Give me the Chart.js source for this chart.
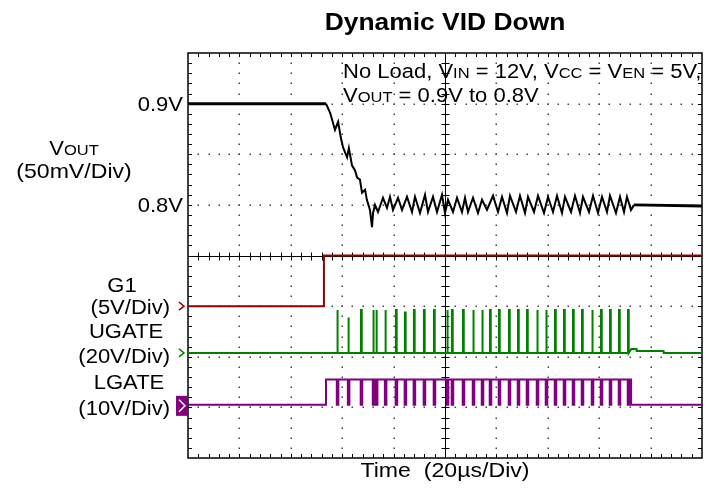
<!DOCTYPE html>
<html>
<head>
<meta charset="utf-8">
<script src="https://cdn.jsdelivr.net/npm/chart.js@4.4.1/dist/chart.umd.min.js"></script>
<style>
  html, body { margin: 0; padding: 0; background: #fff; }
  #wrap { width: 714px; height: 495px; position: relative; }
</style>
</head>
<body>
<div id="wrap"><canvas id="scope"></canvas></div>
<script>
// time axis in µs (20µs/div, 10 div)
const timeTicks = [0, 20, 40, 60, 80, 100, 120, 140, 160, 180, 200];

// VOUT trace (V)
const vTime = [0, 53.7, 55.3, 57.2, 58.4, 59.5, 60.3, 61.9, 62.6, 63.8, 65.0, 65.8, 66.9, 67.7, 68.9, 69.6, 70.8, 71.6, 72.0,
  72.76, 73.93, 75.87, 77.43, 78.60, 79.77, 81.71, 83.27, 85.21, 87.16, 88.33, 90.27, 92.22, 93.38, 95.33, 96.89, 98.83,
  100.0, 101.17, 103.11, 104.67, 106.61, 107.78, 108.95, 110.89, 112.84, 114.40, 116.34, 118.68, 120.62, 122.18, 124.12,
  125.29, 127.62, 129.18, 131.13, 132.30, 134.63, 136.19, 138.52, 140.08, 142.02, 143.58, 145.52, 146.69, 149.03, 150.58,
  152.53, 153.69, 156.03, 157.59, 159.53, 161.09, 163.03, 164.20, 166.53, 168.09, 169.65, 170.81, 172.37, 173.54, 200];
const vOut = [0.900, 0.900, 0.891, 0.874, 0.882, 0.866, 0.857, 0.847, 0.856, 0.839, 0.834, 0.827, 0.825, 0.812, 0.815, 0.805, 0.795, 0.778, 0.792,
  0.800, 0.793, 0.807, 0.797, 0.808, 0.795, 0.807, 0.795, 0.808, 0.793, 0.808, 0.792, 0.810, 0.793, 0.808, 0.793, 0.810,
  0.792, 0.805, 0.793, 0.807, 0.793, 0.807, 0.793, 0.807, 0.792, 0.805, 0.795, 0.809, 0.793, 0.808, 0.792,
  0.809, 0.793, 0.809, 0.792, 0.808, 0.793, 0.809, 0.792, 0.808, 0.793, 0.809, 0.792, 0.808, 0.793, 0.809,
  0.792, 0.808, 0.793, 0.809, 0.792, 0.808, 0.793, 0.809, 0.792, 0.808, 0.793, 0.808, 0.795, 0.800, 0.799];
const vLabels = [0.9, 0.8];

// G1 step (V)
const g1Time = [0, 52.9, 52.9, 200];
const g1Volt = [0, 0, 5, 5];

// UGATE pulses (µs) and their peak (V)
const pulseTimes = [58.0, 62.3, 67.3, 72.0, 73.2, 76.7, 80.9, 84.4, 87.9, 91.8, 95.7, 100.8, 102.7, 107.0, 110.9, 114.4,
  117.5, 121.0, 124.9, 128.4, 131.9, 135.8, 139.3, 142.8, 146.3, 149.8, 153.3, 157.2, 160.7, 164.2, 167.7, 171.2];
const ugPeak = [17, 14, 17, 17, 17, 17, 17, 16, 17, 17, 17, 17, 17, 17, 17, 17,
  17, 17, 17, 17, 17, 17, 17, 17, 17, 17, 17, 17, 17, 17, 17, 17];
const ugTailTime = [172.5, 174.5, 174.6, 185, 185.1];
const ugTailVolt = [1.6, 1.6, 0.8, 0.8, 0];

// LGATE levels (V)
const lgOn = 53.7, lgOff = 172.4, lgHigh = 5;

const ug = [{ x: 0, y: 0 }];
pulseTimes.forEach((t, i) => {
  ug.push({ x: t, y: 0 }, { x: t, y: ugPeak[i] }, { x: t + 0.3, y: ugPeak[i] }, { x: t + 0.3, y: 0 });
});
ugTailTime.forEach((t, i) => ug.push({ x: t, y: ugTailVolt[i] }));
ug.push({ x: 200, y: 0 });

const lg = [{ x: 0, y: 0 }, { x: lgOn, y: 0 }, { x: lgOn, y: lgHigh }];
pulseTimes.forEach(t => {
  lg.push({ x: t - 0.1, y: lgHigh }, { x: t - 0.1, y: 0 }, { x: t + 0.5, y: 0 }, { x: t + 0.5, y: lgHigh });
});
lg.push({ x: lgOff, y: lgHigh }, { x: lgOff, y: 0 }, { x: 200, y: 0 });

const RED = '#990000', GREEN = '#008000', PURPLE = '#800080';
const FONT = '"Liberation Sans", Arial, sans-serif';
const SX = 1.1;

function rich(ctx, parts, x, y, align) {
  let w = 0;
  parts.forEach(p => { ctx.font = p[1]; w += ctx.measureText(p[0]).width; });
  let pos = align === 'center' ? -w / 2 : align === 'right' ? -w : 0;
  ctx.save();
  ctx.translate(x, y);
  ctx.scale(SX, 1);
  ctx.textAlign = 'left';
  ctx.textBaseline = 'alphabetic';
  ctx.fillStyle = '#000';
  parts.forEach(p => { ctx.font = p[1]; ctx.fillText(p[0], pos, 0); pos += ctx.measureText(p[0]).width; });
  ctx.restore();
}

const graticule = {
  id: 'graticule',
  beforeDatasetsDraw(chart) {
    const { ctx, chartArea: a, scales } = chart;
    const x = scales.x, yd = scales.yDiv;
    ctx.save();
    ctx.fillStyle = '#444';
    for (let i = 1; i < 10; i++) {
      if (i === 5) continue;
      const px = Math.round(x.getPixelForValue(timeTicks[i]));
      for (let j = 1; j < 40; j++) ctx.fillRect(px - 0.5, Math.round(yd.getPixelForValue(j * 0.2)) - 0.5, 1.5, 1.5);
    }
    for (let j = 1; j < 8; j++) {
      if (j === 4) continue;
      const py = Math.round(yd.getPixelForValue(j));
      for (let i = 1; i < 50; i++) ctx.fillRect(Math.round(x.getPixelForValue(i * 4)) - 0.5, py - 0.5, 1.5, 1.5);
    }
    ctx.strokeStyle = '#000';
    ctx.lineWidth = 1;
    const cx = Math.round(x.getPixelForValue(100)) + 0.5, cy = Math.round(yd.getPixelForValue(4)) + 0.5;
    ctx.beginPath();
    ctx.moveTo(a.left, cy); ctx.lineTo(a.right, cy);
    ctx.moveTo(cx, a.top); ctx.lineTo(cx, a.bottom);
    for (let i = 1; i < 50; i++) {
      const px = Math.round(x.getPixelForValue(i * 4)) + 0.5;
      ctx.moveTo(px, cy - 4); ctx.lineTo(px, cy + 4);
      ctx.moveTo(px, a.top); ctx.lineTo(px, a.top + 4);
      ctx.moveTo(px, a.bottom); ctx.lineTo(px, a.bottom - 4);
    }
    for (let j = 1; j < 40; j++) {
      const py = Math.round(yd.getPixelForValue(j * 0.2)) + 0.5;
      ctx.moveTo(cx - 4, py); ctx.lineTo(cx + 4, py);
      ctx.moveTo(a.left, py); ctx.lineTo(a.left + 4, py);
      ctx.moveTo(a.right, py); ctx.lineTo(a.right - 4, py);
    }
    ctx.stroke();
    ctx.lineWidth = 1.5;
    ctx.strokeRect(a.left, a.top, a.right - a.left, a.bottom - a.top);
    ctx.restore();
  },
  afterDraw(chart) {
    const { ctx, scales } = chart;
    const cx = scales.x.getPixelForValue(100);
    const big = '20px ' + FONT, sub = '15px ' + FONT;
    const ann = '20px ' + FONT, annSub = '15px ' + FONT;
    rich(ctx, [['Dynamic VID Down', 'bold 24px ' + FONT]], cx, 30, 'center');
    rich(ctx, [['No Load, V', ann], ['IN', annSub], [' = 12V, V', ann], ['CC', annSub], [' = V', ann], ['EN', annSub], [' = 5V,', ann]], 343, 78, 'left');
    rich(ctx, [['V', ann], ['OUT', annSub], [' = 0.9V to 0.8V', ann]], 343, 102, 'left');
    vLabels.forEach(v => rich(ctx, [[v.toFixed(1) + 'V', big]], 183, scales.yV.getPixelForValue(v) + 7, 'right'));
    rich(ctx, [['V', big], ['OUT', sub]], 74, 155, 'center');
    rich(ctx, [['(50mV/Div)', '21px ' + FONT]], 74, 178, 'center');
    const g1y = scales.yG1.getPixelForValue(0), ugy = scales.yUG.getPixelForValue(0), lgy = scales.yLG.getPixelForValue(0);
    rich(ctx, [['G1', big]], 122, g1y - 14, 'center');
    rich(ctx, [['(5V/Div)', big]], 170, g1y + 8, 'right');
    rich(ctx, [['UGATE', big]], 126, ugy - 15, 'center');
    rich(ctx, [['(20V/Div)', big]], 170, ugy + 10, 'right');
    rich(ctx, [['LGATE', big]], 129, lgy - 16, 'center');
    rich(ctx, [['(10V/Div)', big]], 170, lgy + 10, 'right');
    rich(ctx, [['Time  (20\u00b5s/Div)', '21px ' + FONT]], cx, 477, 'center');
    // channel ground markers
    ctx.save();
    ctx.lineWidth = 1.5;
    ctx.strokeStyle = RED;
    ctx.beginPath(); ctx.moveTo(179, g1y - 4); ctx.lineTo(184, g1y); ctx.lineTo(179, g1y + 4); ctx.stroke();
    ctx.strokeStyle = GREEN;
    ctx.beginPath(); ctx.moveTo(179, ugy - 4); ctx.lineTo(184, ugy); ctx.lineTo(179, ugy + 4); ctx.stroke();
    ctx.fillStyle = PURPLE;
    ctx.fillRect(176, lgy - 9, 12, 20);
    ctx.strokeStyle = '#fff';
    ctx.beginPath(); ctx.moveTo(179, lgy - 5); ctx.lineTo(185, lgy + 1); ctx.lineTo(179, lgy + 7); ctx.stroke();
    ctx.restore();
  }
};

const ctx = document.getElementById('scope').getContext('2d');
new Chart(ctx, {
  type: 'line',
  data: {
    datasets: [
      {
        label: 'VOUT', yAxisID: 'yV', borderColor: '#000', borderWidth: 2,
        data: vTime.map((t, i) => ({ x: t, y: vOut[i] })),
        segment: { borderWidth: s => (s.p1.parsed.x <= 53.7 || s.p0.parsed.x >= 173.5) ? 3 : 2 }
      },
      { label: 'G1', yAxisID: 'yG1', borderColor: RED, borderWidth: 2, data: g1Time.map((t, i) => ({ x: t, y: g1Volt[i] })) },
      { label: 'UGATE', yAxisID: 'yUG', borderColor: GREEN, borderWidth: 2, data: ug },
      { label: 'LGATE', yAxisID: 'yLG', borderColor: PURPLE, borderWidth: 2, data: lg }
    ]
  },
  options: {
    responsive: true,
    maintainAspectRatio: false,
    animation: false,
    layout: { padding: { left: 188, right: 12, top: 53, bottom: 37 } },
    elements: { point: { radius: 0 }, line: { tension: 0 } },
    plugins: { legend: { display: false }, tooltip: { enabled: false } },
    scales: {
      x: { type: 'linear', min: 0, max: 200, display: false },
      yDiv: { type: 'linear', min: 0, max: 8, display: false },
      yV: { type: 'linear', min: 0.55, max: 0.95, display: false },
      yG1: { type: 'linear', min: -15, max: 25, display: false },
      yUG: { type: 'linear', min: -41.5, max: 118.5, display: false },
      yLG: { type: 'linear', min: -10.5, max: 69.5, display: false }
    }
  },
  plugins: [graticule]
});
</script>
</body>
</html>
